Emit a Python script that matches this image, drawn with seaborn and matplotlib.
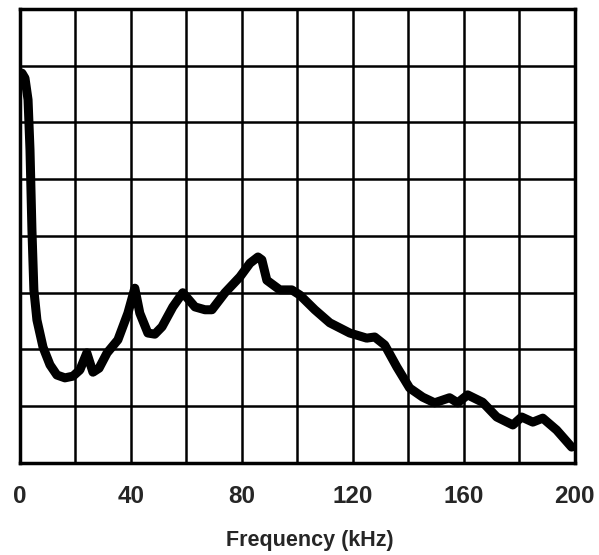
import numpy as np
import pandas as pd
import matplotlib
matplotlib.use('Agg')
import matplotlib.pyplot as plt
import seaborn as sns

# Valores (frecuencia en kHz, amplitud en divisiones de la rejilla)
frequency = [0.7, 1.8, 2.9, 3.6, 4.3, 5.0, 6.1, 8.3, 10.8, 13.3, 16.2, 19.1, 21.6,
             24.1, 26.3, 28.5, 31.4, 35.3, 38.9, 41.4, 43.2, 46.1, 48.6, 51.2, 55.1,
             58.7, 63.1, 66.7, 69.2, 73.9, 79.3, 82.9, 85.8, 87.2, 89.0, 93.7, 98.0,
             100.9, 106.3, 111.7, 118.9, 125.0, 127.9, 131.5, 135.9, 140.5, 145.2,
             149.5, 154.9, 157.8, 161.4, 166.8, 171.9, 177.7, 180.9, 184.9, 188.5,
             193.5, 198.9]
amplitude = [6.87, 6.78, 6.40, 5.52, 4.11, 3.05, 2.52, 2.04, 1.73, 1.55, 1.50, 1.53, 1.64,
             1.94, 1.60, 1.67, 1.94, 2.17, 2.64, 3.08, 2.64, 2.29, 2.27, 2.40, 2.75,
             3.00, 2.75, 2.70, 2.70, 3.00, 3.28, 3.52, 3.63, 3.58, 3.22, 3.05, 3.05,
             2.96, 2.70, 2.47, 2.29, 2.20, 2.22, 2.08, 1.69, 1.32, 1.16,
             1.06, 1.15, 1.06, 1.20, 1.07, 0.81, 0.67, 0.81, 0.72, 0.79,
             0.58, 0.28]
x_ticks = [0, 40, 80, 120, 160, 200]

df = pd.DataFrame({'freq': frequency, 'amp': amplitude})

sns.set_style("white")
plt.rcParams['font.family'] = ['Liberation Sans', 'DejaVu Sans']

fig = plt.figure(figsize=(5.99, 5.55), dpi=100)
ax = fig.add_axes([0.0334, 0.1658, 0.926, 0.818])

sns.lineplot(data=df, x='freq', y='amp', ax=ax, color='black', linewidth=6.5,
             solid_joinstyle='round', solid_capstyle='round', zorder=3)

ax.set_xlim(0, 200)
ax.set_ylim(0, 8)
ax.set_yticks(np.arange(0, 9, 1))
ax.set_xticks(x_ticks)
ax.set_xticks(np.arange(20, 200, 40), minor=True)
ax.grid(True, which='major', color='black', linewidth=1.8)
ax.grid(True, which='minor', axis='x', color='black', linewidth=1.8)
ax.set_yticklabels([])
ax.tick_params(axis='both', which='both', length=0)
ax.tick_params(axis='x', pad=16)

for lbl in ax.get_xticklabels():
    lbl.set_fontsize(17.5)
    lbl.set_fontweight('bold')

for s in ax.spines.values():
    s.set_color('black')
    s.set_linewidth(2.5)

ax.set_xlabel('Frequency (kHz)', fontsize=15.5, fontweight='bold')
ax.xaxis.set_label_coords(0.523, -0.148)
ax.set_ylabel('')

fig.savefig('out.png', dpi=100)
